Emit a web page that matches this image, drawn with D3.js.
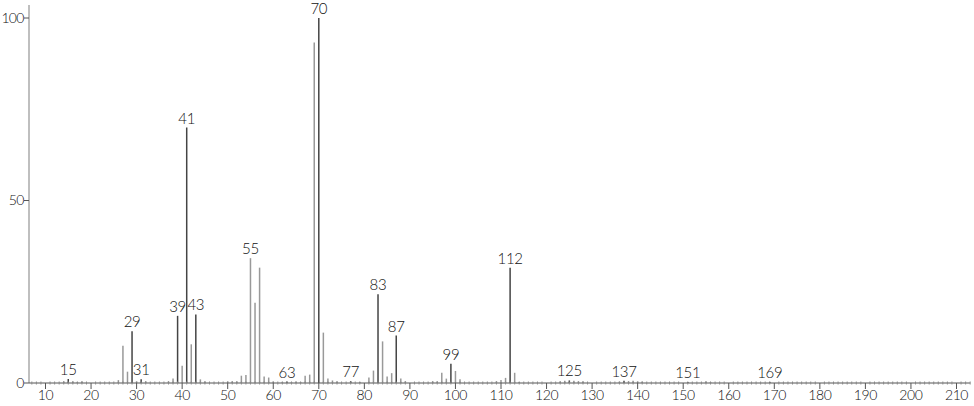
<!DOCTYPE html>
<html lang="en">
<head>
  <meta charset="UTF-8" />
  <title>Mass Spectrum</title>
  <style>
    body { margin: 0; background: #fff; }
    svg { display: block; }
    text { font-family: Lato, "Open Sans", sans-serif; font-weight: 300; fill: #111; }
  </style>
</head>
<body>
  <svg id="chart" width="974" height="406"></svg>

  <script src="https://d3js.org/d3.v7.min.js"></script>
  <script>
    // m/z values and relative intensities
    const mz = [14, 15, 16, 17, 18, 26, 27, 28, 29, 30, 31, 32, 37, 38, 39, 40, 41, 42, 43, 44, 45,
      50, 51, 52, 53, 54, 55, 56, 57, 58, 59, 60, 62, 63, 64, 65, 66, 67, 68, 69, 70, 71, 72, 73, 74,
      77, 79, 81, 82, 83, 84, 85, 86, 87, 88, 89, 95, 96, 97, 98, 99, 100, 101,
      109, 110, 111, 112, 113, 114, 123, 124, 125, 126, 127, 128, 136, 137, 138, 139, 140, 141,
      151, 155, 156, 169];
    const intensity = [0.5, 1.1, 0.5, 0.3, 0.5, 0.8, 10.2, 3.1, 14.2, 0.5, 1.0, 0.5, 0.5, 1.2, 18.4, 4.7, 70, 10.6, 18.8, 1.0, 0.5,
      0.5, 0.5, 0.5, 2.0, 2.2, 34.2, 22.0, 31.6, 1.8, 1.5, 0.5, 0.3, 0.4, 0.3, 0.4, 0.3, 2.0, 2.3, 93.3, 100, 13.8, 1.2, 0.7, 0.5,
      0.5, 0.3, 1.5, 3.4, 24.3, 11.4, 1.8, 2.7, 13.0, 1.2, 0.5, 0.5, 0.5, 2.8, 1.2, 5.3, 3.3, 1.0,
      0.5, 0.8, 1.4, 31.6, 2.8, 0.3, 0.5, 0.6, 0.7, 0.6, 0.5, 0.5, 0.4, 0.6, 0.5, 0.6, 0.5, 0.4,
      0.3, 0.5, 0.3, 0.3];
    const labelled = [15, 29, 31, 39, 41, 43, 55, 63, 70, 77, 83, 87, 99, 112, 125, 137, 151, 169];
    const xTicks = d3.range(10, 211, 10);
    const yTicks = [0, 50, 100];

    const svg = d3.select("#chart");
    const x = d3.scaleLinear().domain([10, 210]).range([45.5, 956.5]);
    const y = d3.scaleLinear().domain([0, 100]).range([383, 18]);
    const base = y(0);

    // peaks
    svg.append("g").selectAll("line")
      .data(mz.map((m, i) => ({ m, v: intensity[i] })))
      .join("line")
      .attr("x1", d => x(d.m)).attr("x2", d => x(d.m))
      .attr("y1", base).attr("y2", d => y(d.v))
      .attr("stroke", d => labelled.includes(d.m) && d.m !== 55 ? "#444" : "#999")
      .attr("stroke-width", 1.5);

    // peak labels
    svg.append("g").selectAll("text")
      .data(labelled)
      .join("text")
      .attr("x", d => x(d))
      .attr("y", d => y(intensity[mz.indexOf(d)]) - 4)
      .attr("text-anchor", "middle")
      .style("font-size", "15px")
      .style("letter-spacing", "-0.3px")
      .text(d => d);

    // y axis
    svg.append("line")
      .attr("x1", 29).attr("x2", 29).attr("y1", 5).attr("y2", base)
      .attr("stroke", "#aaa").attr("stroke-width", 1.5);
    const yg = svg.append("g").selectAll("g").data(yTicks).join("g");
    yg.append("line")
      .attr("x1", 24).attr("x2", 29).attr("y1", d => y(d)).attr("y2", d => y(d))
      .attr("stroke", "#555");
    yg.append("text")
      .attr("x", 23.5).attr("y", d => y(d)).attr("dy", "0.35em")
      .attr("text-anchor", "end")
      .style("font-size", "14px")
      .style("letter-spacing", "-0.8px")
      .text(d => d);

    // x axis
    svg.append("line")
      .attr("x1", 29).attr("x2", 970).attr("y1", base).attr("y2", base)
      .attr("stroke", "#555").attr("stroke-width", 1);
    svg.append("g").selectAll("line")
      .data(d3.range(7, 214))
      .join("line")
      .attr("x1", d => x(d)).attr("x2", d => x(d))
      .attr("y1", d => d % 10 === 0 ? base : base - 1.5)
      .attr("y2", d => d % 10 === 0 ? base + 6 : base + 1.5)
      .attr("stroke", d => d % 10 === 0 ? "#555" : "#888")
      .attr("stroke-width", 1);
    svg.append("g").selectAll("text")
      .data(xTicks)
      .join("text")
      .attr("x", d => x(d)).attr("y", 400)
      .attr("text-anchor", "middle")
      .style("font-size", "14px")
      .style("letter-spacing", "-0.4px")
      .text(d => d);
  </script>
</body>
</html>
